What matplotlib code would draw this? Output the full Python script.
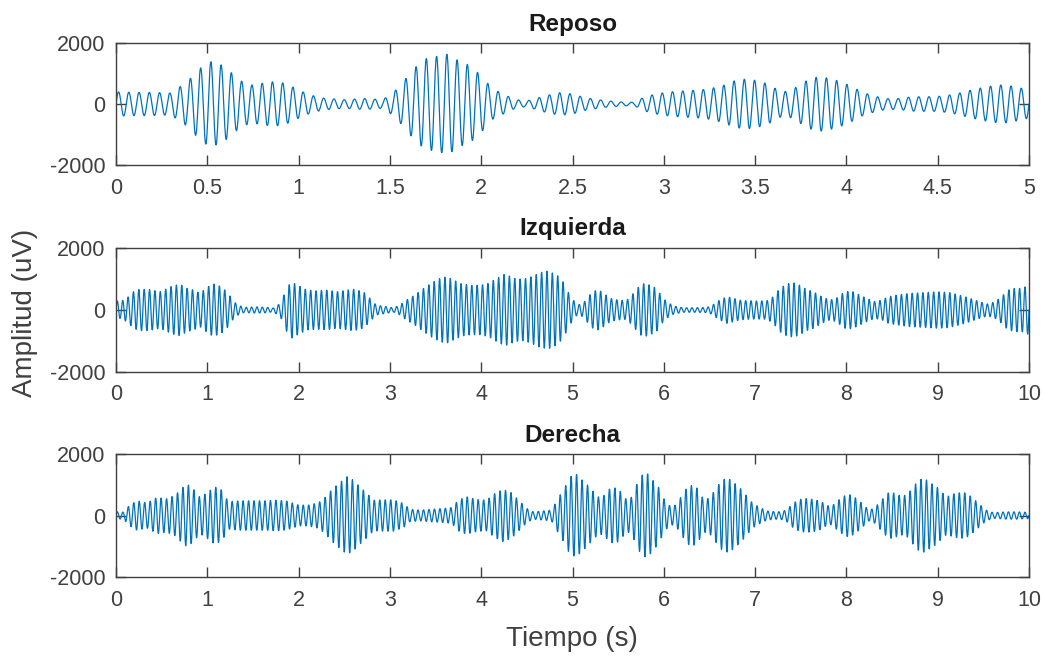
import numpy as np
import matplotlib
matplotlib.use("Agg")
import matplotlib.pyplot as plt

plt.rcParams['font.family'] = ['Liberation Sans', 'DejaVu Sans']
plt.rcParams['axes.unicode_minus'] = False

# ---- data: envelope readings (time s, amplitude uV) and carrier frequency ----
reposo_t = [0.0, 0.1, 0.2, 0.3, 0.39, 0.45, 0.51, 0.57, 0.62, 0.68, 0.74, 0.80, 0.86, 0.92,
            0.97, 1.03, 1.08, 1.14, 1.25, 1.36, 1.46, 1.52, 1.57, 1.63, 1.69, 1.76, 1.82,
            1.88, 1.94, 2.00, 2.06, 2.12, 2.18, 2.24, 2.29, 2.35, 2.43, 2.50, 2.56, 2.62,
            2.68, 2.78, 2.84, 2.89, 2.95, 3.01, 3.07, 3.14, 3.20, 3.26, 3.33, 3.39, 3.45,
            3.51, 3.57, 3.63, 3.68, 3.74, 3.79, 3.85, 3.91, 3.97, 4.03, 4.09, 4.16, 4.22,
            4.29, 4.35, 4.41, 4.48, 4.54, 4.60, 4.67, 4.73, 4.80, 4.86, 4.92, 5.0]
reposo_a = [400, 380, 380, 360, 730, 1120, 1400, 1310, 1090, 770, 620, 680, 730, 690,
            550, 380, 270, 190, 140, 180, 140, 380, 710, 1150, 1475, 1570, 1640,
            1400, 1260, 930, 510, 330, 160, 90, 160, 270, 370, 330, 220, 160,
            110, 60, 60, 220, 320, 380, 415, 440, 460, 510, 620, 770, 820,
            770, 660, 440, 400, 600, 800, 900, 840, 730, 570, 380, 250, 175,
            180, 230, 240, 240, 270, 330, 440, 520, 600, 630, 570, 460]
reposo_f = 17.8

izq_t = [0.0, 0.05, 0.12, 0.19, 0.26, 0.37, 0.48, 0.55, 0.61, 0.70, 0.78, 0.85, 0.92,
         0.98, 1.03, 1.08, 1.16, 1.23, 1.29, 1.34, 1.40, 1.54, 1.65, 1.72, 1.80, 1.87,
         1.92, 1.99, 2.09, 2.20, 2.31, 2.42, 2.53, 2.60, 2.71, 2.78, 2.85, 2.96, 3.04,
         3.11, 3.18, 3.27, 3.37, 3.46, 3.55, 3.62, 3.71, 3.79, 3.88, 3.99, 4.08, 4.17,
         4.26, 4.37, 4.46, 4.55, 4.64, 4.73, 4.83, 4.90, 4.97, 5.05, 5.12, 5.17, 5.23,
         5.29, 5.35, 5.41, 5.50, 5.59, 5.65, 5.74, 5.79, 5.85, 5.92, 5.98, 6.03, 6.11,
         6.21, 6.36, 6.47, 6.52, 6.60, 6.69, 6.76, 6.83, 6.91, 7.02, 7.13, 7.20, 7.27,
         7.35, 7.42, 7.49, 7.56, 7.64, 7.73, 7.82, 7.89, 7.98, 8.06, 8.15, 8.22, 8.31,
         8.39, 8.46, 8.55, 8.70, 8.84, 8.99, 9.12, 9.24, 9.35, 9.46, 9.55, 9.63, 9.70,
         9.77, 9.85, 9.92, 10.0]
izq_a = [300, 270, 380, 590, 670, 660, 590, 680, 770, 830, 700, 645, 540,
         680, 800, 840, 740, 540, 270, 160, 86, 100, 90, 60, 215, 700,
         910, 800, 645, 620, 640, 590, 640, 670, 590, 380, 160, 108, 70,
         160, 320, 480, 700, 880, 1020, 1075, 950, 840, 800, 800, 860, 1020,
         1160, 1020, 990, 1075, 1200, 1260, 1130, 900, 480, 160, 220, 430, 610,
         645, 520, 380, 320, 300, 480, 800, 860, 800, 700, 430, 270, 130,
         75, 75, 85, 130, 300, 430, 380, 320, 300, 290, 300, 430, 700,
         840, 880, 800, 670, 590, 430, 320, 380, 590, 610, 480, 380, 270,
         320, 430, 480, 540, 560, 590, 570, 480, 380, 270, 190, 270, 430,
         645, 700, 700, 800]
izq_f = 17.0

der_t = [0.0, 0.08, 0.15, 0.23, 0.34, 0.45, 0.55, 0.65, 0.72, 0.78, 0.85, 0.92, 1.01,
         1.08, 1.16, 1.23, 1.36, 1.50, 1.65, 1.76, 1.87, 2.00, 2.11, 2.22, 2.29, 2.36,
         2.45, 2.53, 2.60, 2.67, 2.75, 2.82, 2.93, 3.04, 3.15, 3.22, 3.33, 3.44, 3.59,
         3.68, 3.75, 3.84, 3.95, 4.06, 4.15, 4.24, 4.33, 4.43, 4.50, 4.57, 4.68, 4.77,
         4.84, 4.92, 4.97, 5.04, 5.10, 5.15, 5.23, 5.29, 5.35, 5.41, 5.48, 5.54, 5.59,
         5.65, 5.70, 5.76, 5.82, 5.88, 5.94, 6.00, 6.07, 6.13, 6.20, 6.26, 6.32, 6.38,
         6.43, 6.49, 6.54, 6.61, 6.67, 6.73, 6.80, 6.85, 6.91, 6.97, 7.04, 7.13, 7.24,
         7.31, 7.36, 7.42, 7.49, 7.56, 7.65, 7.73, 7.78, 7.84, 7.89, 7.96, 8.02, 8.08,
         8.13, 8.19, 8.25, 8.31, 8.39, 8.46, 8.51, 8.57, 8.62, 8.68, 8.73, 8.80, 8.86,
         8.92, 8.99, 9.04, 9.10, 9.17, 9.24, 9.30, 9.36, 9.43, 9.49, 9.53, 9.61, 9.75,
         9.86, 10.0]
der_a = [120, 110, 340, 480, 410, 590, 540, 660, 880, 1020, 850, 590, 770,
         935, 830, 445, 480, 480, 480, 500, 470, 340, 340, 420, 590, 830,
         1065, 1260, 1150, 935, 720, 500, 510, 510, 390, 200, 175, 200, 230,
         260, 500, 610, 520, 500, 720, 850, 740, 445, 230, 120, 150, 175,
         550, 935, 1260, 1350, 1170, 1040, 770, 590, 660, 880, 900, 740, 520,
         600, 990, 1310, 1370, 1150, 935, 550, 300, 340, 660, 935, 990, 850,
         550, 550, 740, 1040, 1200, 1170, 990, 850, 630, 410, 280, 150, 120,
         140, 230, 410, 520, 550, 520, 445, 330, 300, 445, 610, 700, 620,
         500, 340, 175, 250, 520, 740, 740, 660, 630, 720, 935, 1170, 1200,
         1060, 935, 770, 610, 700, 740, 740, 630, 445, 280, 175, 90, 120,
         120, 100]
der_f = 16.7

series = [
    ("Reposo", reposo_t, reposo_a, reposo_f, 5.0, [0, 0.5, 1, 1.5, 2, 2.5, 3, 3.5, 4, 4.5, 5]),
    ("Izquierda", izq_t, izq_a, izq_f, 10.0, list(range(11))),
    ("Derecha", der_t, der_a, der_f, 10.0, list(range(11))),
]

fig = plt.figure(figsize=(10.45, 6.57), dpi=100)
L, W = 116 / 1045, 913 / 1045
boxes = [(43, 165), (248, 372), (454, 577)]
line_color = '#0072BD'
axis_color = '#404040'

fs = 500.0
for (name, tk, ak, f, tmax, xt), (top, bot) in zip(series, boxes):
    ax = fig.add_axes([L, 1 - bot / 657, W, (bot - top) / 657])
    t = np.arange(0, tmax + 1e-9, 1 / fs)
    env = np.interp(t, tk, ak)
    y = env * np.sin(2 * np.pi * f * t)
    ax.plot(t, y, color=line_color, lw=0.9)
    ax.set_xlim(0, tmax)
    ax.set_ylim(-2000, 2000)
    ax.set_xticks(xt)
    ax.set_xticklabels([('%g' % v) for v in xt])
    ax.set_yticks([-2000, 0, 2000])
    ax.tick_params(direction='in', length=7, width=1.0, colors=axis_color,
                   labelsize=15.5, top=True, right=True)
    ax.tick_params(axis='x', pad=9)
    ax.tick_params(axis='y', pad=7.5)
    for s in ax.spines.values():
        s.set_color(axis_color)
        s.set_linewidth(1.0)
    ax.set_title(name, fontsize=17.5, fontweight='bold', color='#1a1a1a', pad=9)

fig.text(25 / 1045, 1 - 313 / 657, 'Amplitud (uV)', rotation=90, ha='center', va='center',
         fontsize=20, color=axis_color)
fig.text(572 / 1045, 1 - 646 / 657, 'Tiempo (s)', ha='center', va='baseline',
         fontsize=20, color=axis_color)

fig.savefig('out.png', dpi=100)
